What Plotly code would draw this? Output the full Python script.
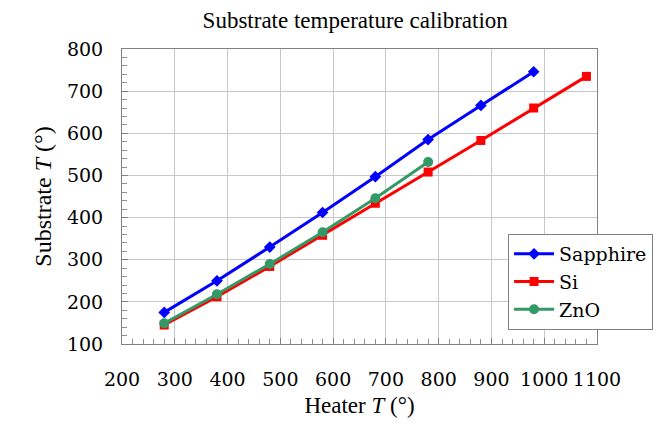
import plotly.graph_objects as go

# Heater set-points (°) and measured substrate temperatures (°)
heater_T = [280, 380, 480, 580, 680, 780, 880, 980, 1080]
sapphire_T = [175, 250, 330, 412, 497, 585, 666, 746]
si_T = [145, 212, 284, 358, 434, 508, 583, 660, 735]
zno_T = [149, 218, 290, 365, 446, 532]

x_ticks = [200, 300, 400, 500, 600, 700, 800, 900, 1000, 1100]
y_ticks = [100, 200, 300, 400, 500, 600, 700, 800]

TITLE_FONT = "Liberation Serif"
LABEL_FONT = "DejaVu Serif"

fig = go.Figure()
fig.add_trace(go.Scatter(
    x=heater_T[:len(sapphire_T)], y=sapphire_T, name="Sapphire",
    mode="lines+markers",
    line=dict(color="#0000FF", width=3),
    marker=dict(symbol="diamond", size=9, color="#0000FF"),
))
fig.add_trace(go.Scatter(
    x=heater_T[:len(si_T)], y=si_T, name="Si",
    mode="lines+markers",
    line=dict(color="#FF0000", width=3),
    marker=dict(symbol="square", size=9, color="#FF0000"),
))
fig.add_trace(go.Scatter(
    x=heater_T[:len(zno_T)], y=zno_T, name="ZnO",
    mode="lines+markers",
    line=dict(color="#339966", width=3),
    marker=dict(symbol="circle", size=10, color="#339966"),
))

axis_common = dict(
    showgrid=True, gridcolor="#c8c8c8", gridwidth=1,
    showline=True, linecolor="#808080", linewidth=1, mirror=True,
    ticks="inside", ticklen=6, tickcolor="#808080",
    tickfont=dict(family=LABEL_FONT, size=19, color="#000"),
    zeroline=False,
)

fig.update_xaxes(
    range=[200, 1100], tickvals=x_ticks,
    ticktext=[str(v) for v in x_ticks],
    ticklabelstandoff=18,
    minor=dict(dtick=20, ticks="inside", ticklen=5, tickcolor="#909090", showgrid=False),
    title=dict(text="Heater <i>T</i> (°)", font=dict(family=TITLE_FONT, size=23, color="#000"), standoff=8),
    **axis_common,
)
fig.update_yaxes(
    range=[100, 800], tickvals=y_ticks,
    ticktext=[str(v) for v in y_ticks],
    ticklabelstandoff=14,
    minor=dict(dtick=20, ticks="inside", ticklen=5, tickcolor="#909090", showgrid=False),
    title=dict(text="Substrate <i>T</i> (°)", font=dict(family=TITLE_FONT, size=24, color="#000"), standoff=8),
    **axis_common,
)

fig.update_layout(
    width=664, height=437,
    margin=dict(l=122, r=66, t=49, b=93),
    paper_bgcolor="white", plot_bgcolor="white",
    font=dict(family=LABEL_FONT, size=18, color="#000"),
    title=dict(text="Substrate temperature calibration", x=0.535, xanchor="center",
               y=0.955, yanchor="middle",
               font=dict(family=TITLE_FONT, size=23, color="#000")),
    legend=dict(
        x=0.811, y=0.373, xanchor="left", yanchor="top",
        bgcolor="white", bordercolor="#808080", borderwidth=1,
        font=dict(family=LABEL_FONT, size=19, color="#000"),
        itemwidth=40,
    ),
    showlegend=True,
)

fig.write_html("out.html")
